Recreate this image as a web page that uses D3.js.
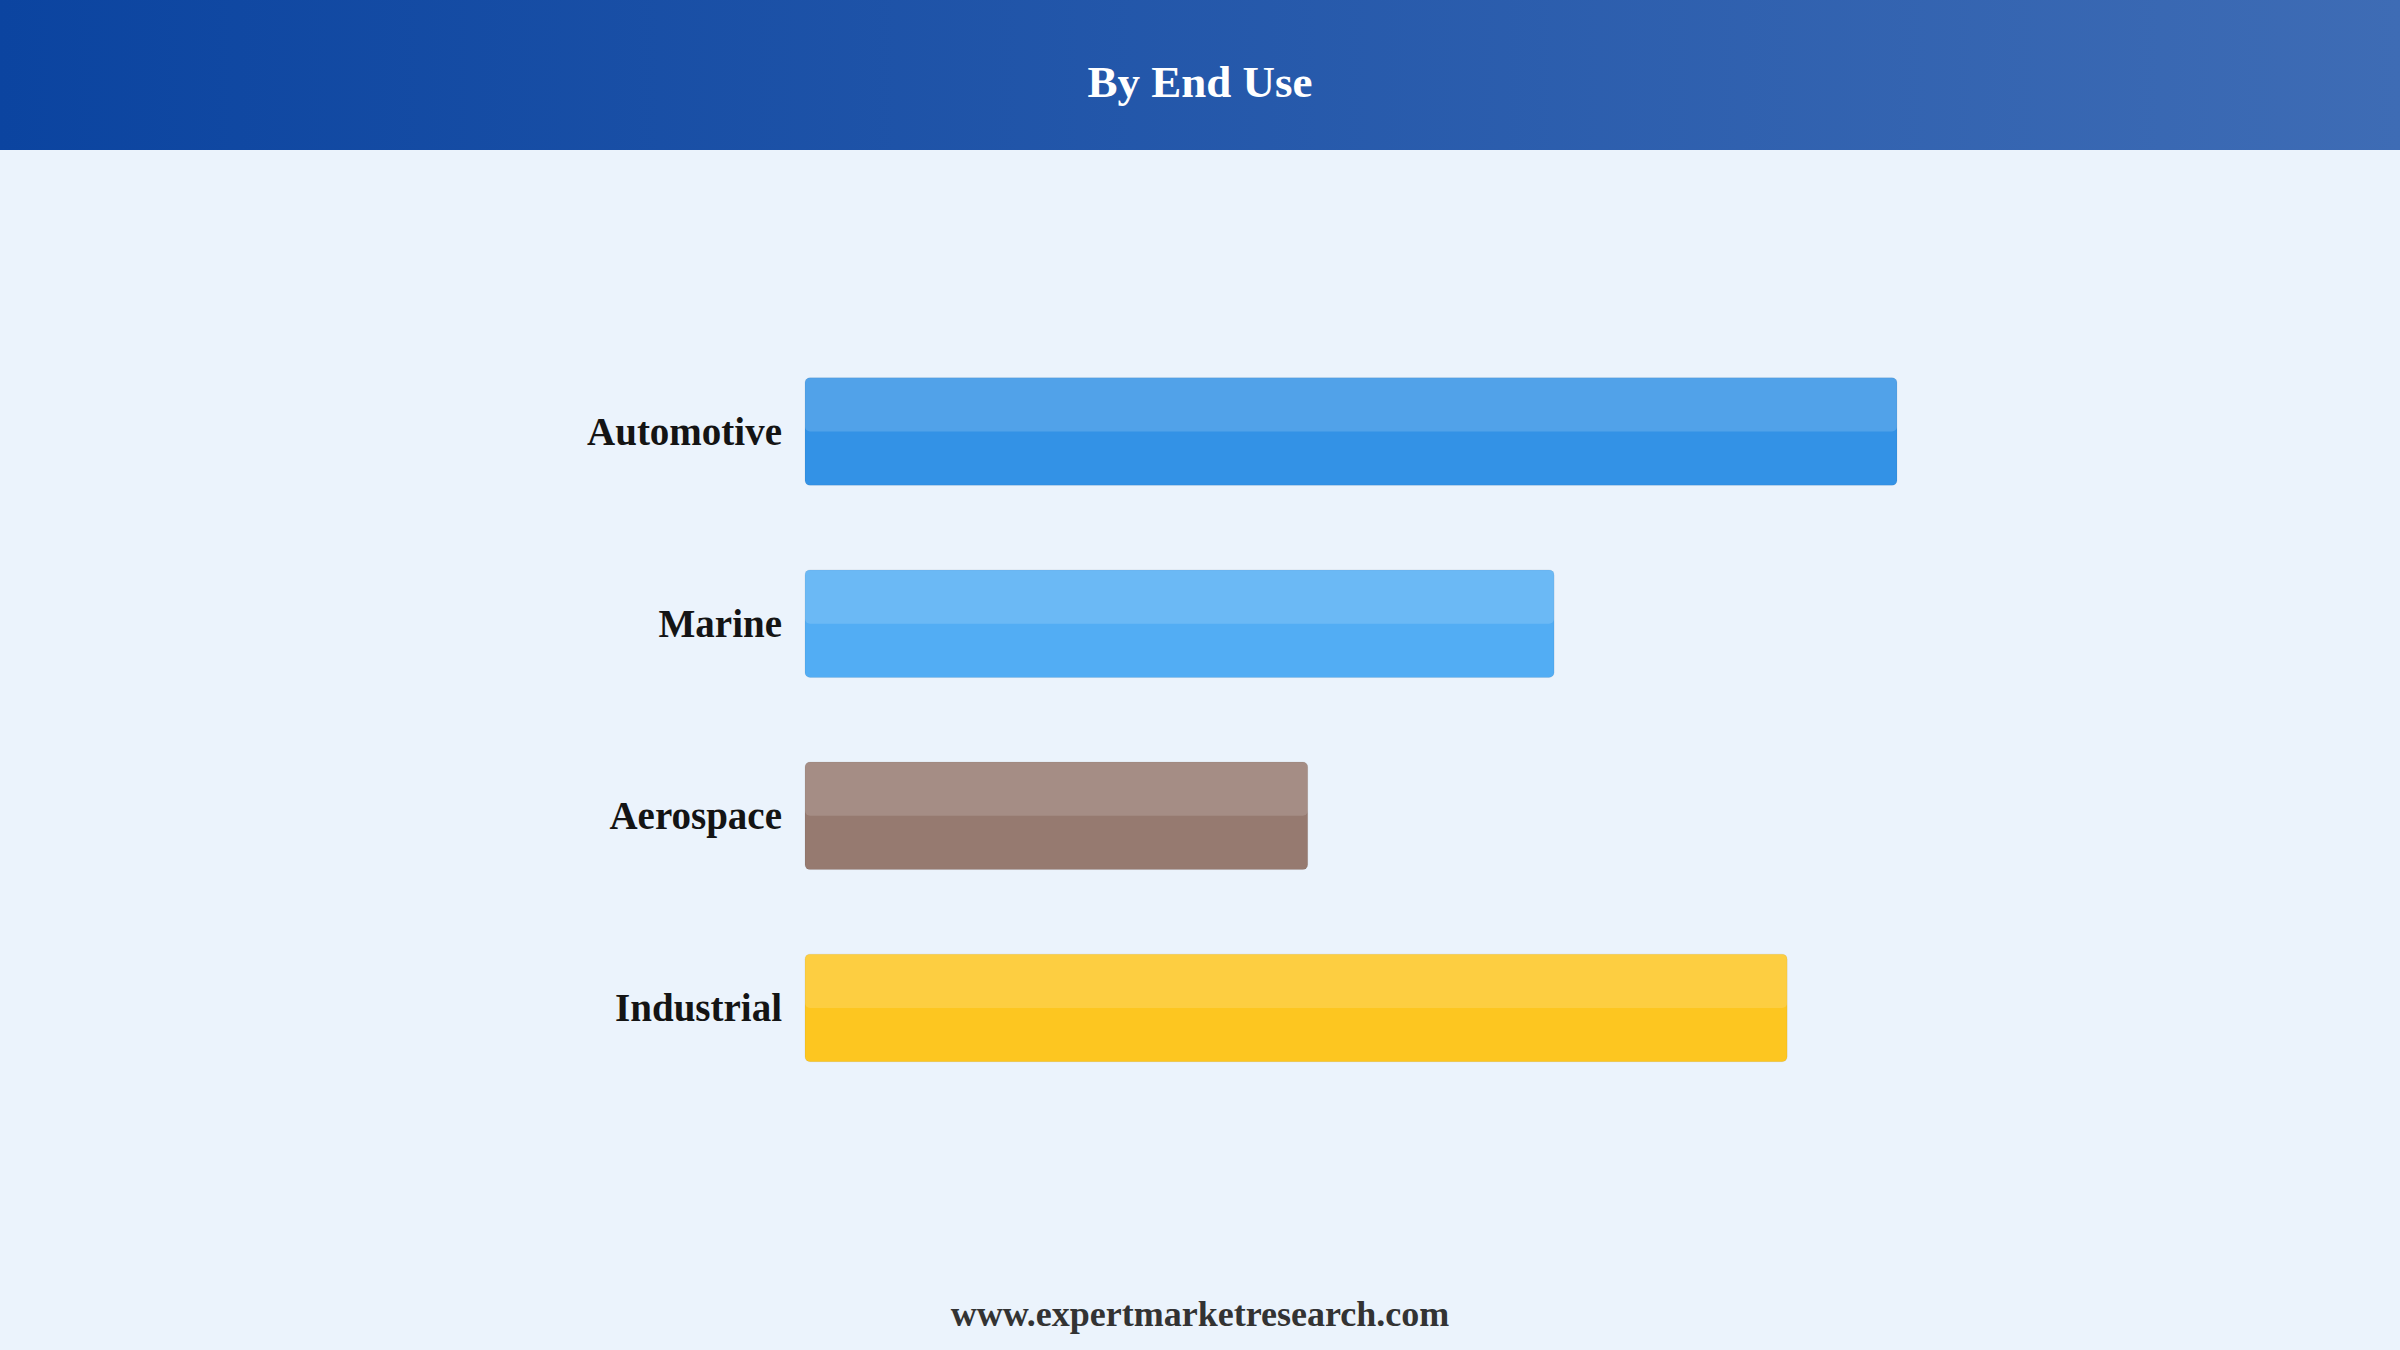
<!DOCTYPE html>
<html lang="en">
<head>
    <meta charset="utf-8">
    <title>By End Use</title>
    <script type="text/javascript" src="https://d3js.org/d3.v7.min.js"></script>
    <style type="text/css">
        body { margin: 0; background: #ebf3fc; }
        svg { display: block; }
    </style>
</head>
<body>
    <script type="text/javascript">

        const width = 2400;
        const height = 1350;

        // Data (relative shares)
        const categories = ["Automotive", "Marine", "Aerospace", "Industrial"];
        const values = [32.8, 22.5, 15.1, 29.5];
        const barColors = ["#3392e6", "#52adf4", "#967a70", "#fdc620"];

        const svg = d3.select("body")
                    .append("svg")
                    .attr("width", width)
                    .attr("height", height);

        // Header gradient
        const defs = svg.append("defs");
        const grad = defs.append("linearGradient")
                    .attr("id", "headerGrad")
                    .attr("x1", "0%").attr("x2", "100%")
                    .attr("y1", "0%").attr("y2", "0%");
        grad.append("stop").attr("offset", "0%").attr("stop-color", "#0b44a0");
        grad.append("stop").attr("offset", "100%").attr("stop-color", "#3e6cb5");

        svg.append("rect")
            .attr("width", width)
            .attr("height", height)
            .attr("fill", "#ebf3fc");

        svg.append("rect")
            .attr("width", width)
            .attr("height", 150)
            .attr("fill", "url(#headerGrad)");

        svg.append("text")
            .attr("x", width / 2)
            .attr("y", 97)
            .attr("text-anchor", "middle")
            .attr("fill", "#ffffff")
            .style("font-family", "'Liberation Serif', 'Times New Roman', serif")
            .style("font-weight", "bold")
            .style("font-size", "45px")
            .text("By End Use");

        // Scales
        const xScale = d3.scaleLinear()
                        .domain([0, d3.max(values)])
                        .range([805, 1897]);

        const yScale = d3.scaleBand()
                        .domain(categories)
                        .range([335.5, 1104])
                        .paddingInner(0.44)
                        .paddingOuter(0.22);

        const data = categories.map((c, i) => ({ cat: c, value: values[i], color: barColors[i] }));

        // Bars
        const bars = svg.selectAll("g.bar")
            .data(data)
            .enter()
            .append("g")
            .attr("class", "bar");

        bars.append("rect")
            .attr("x", xScale(0))
            .attr("y", d => yScale(d.cat))
            .attr("width", d => xScale(d.value) - xScale(0))
            .attr("height", yScale.bandwidth())
            .attr("rx", 5)
            .attr("fill", d => d.color)
            .attr("stroke", "rgba(0,0,0,0.06)")
            .attr("stroke-width", 1);

        bars.append("rect")
            .attr("x", xScale(0))
            .attr("y", d => yScale(d.cat))
            .attr("width", d => xScale(d.value) - xScale(0))
            .attr("height", yScale.bandwidth() / 2)
            .attr("rx", 5)
            .attr("fill", "#ffffff")
            .attr("fill-opacity", 0.15);

        // Category labels
        svg.selectAll("text.label")
            .data(data)
            .enter()
            .append("text")
            .attr("class", "label")
            .attr("x", xScale(0) - 23)
            .attr("y", d => yScale(d.cat) + yScale.bandwidth() / 2 + 13)
            .attr("text-anchor", "end")
            .attr("fill", "#141414")
            .style("font-family", "'Liberation Serif', 'Times New Roman', serif")
            .style("font-weight", "bold")
            .style("font-size", "39px")
            .text(d => d.cat);

        // Footer
        svg.append("text")
            .attr("x", width / 2)
            .attr("y", 1326)
            .attr("text-anchor", "middle")
            .attr("fill", "#333333")
            .style("font-family", "'Liberation Serif', 'Times New Roman', serif")
            .style("font-weight", "bold")
            .style("font-size", "36px")
            .text("www.expertmarketresearch.com");
    </script>
</body>
</html>
